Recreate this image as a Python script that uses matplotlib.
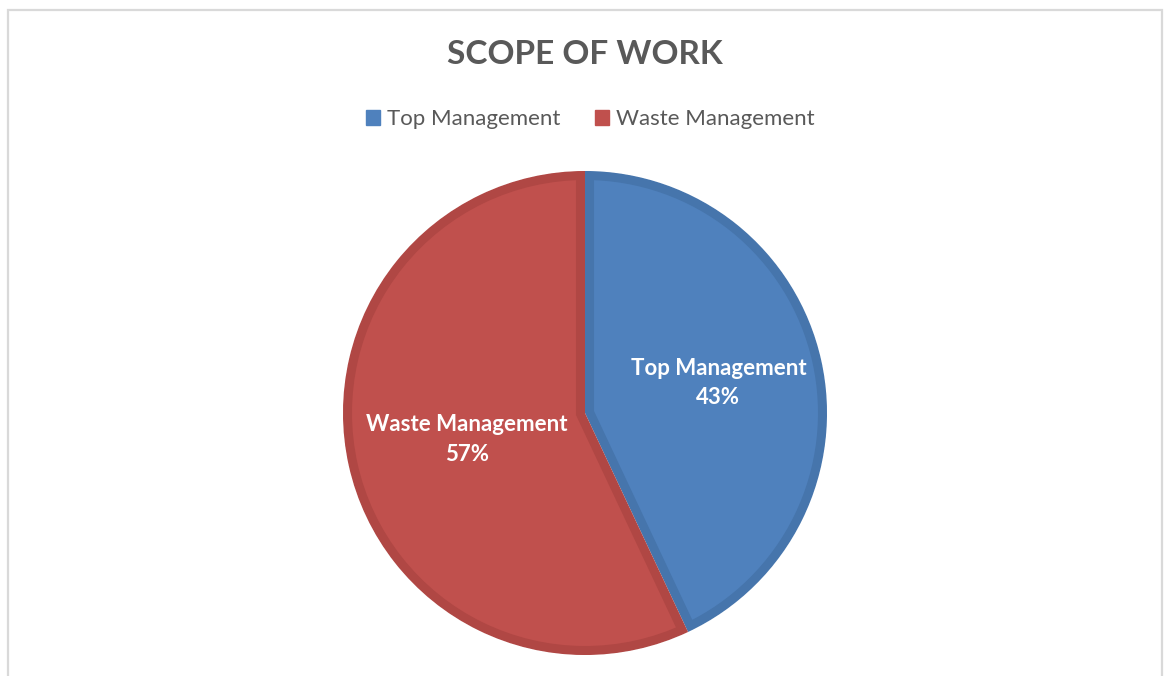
import matplotlib
matplotlib.use("Agg")
import matplotlib.pyplot as plt
from matplotlib.patches import Wedge, Rectangle, Patch
import numpy as np

title = "SCOPE OF WORK"
categories = ["Top Management", "Waste Management"]
values = [43, 57]
colors = ["#4F81BD", "#C0504D"]
edge_colors = ["#4675AC", "#B04744"]

FONT = ["Lato", "DejaVu Sans"]
W, H = 1168, 676
fig = plt.figure(figsize=(W / 100, H / 100), dpi=100)
fig.patch.set_facecolor("white")

# outer border (open at bottom)
fig.add_artist(Rectangle((8 / W, -0.05), (1162 - 8) / W, (H - 10) / H + 0.05,
                         transform=fig.transFigure, fill=False,
                         edgecolor="#D9D9D9", lw=1.6))

cx, cy, r = 585, 413, 242
ax = fig.add_axes([(cx - r) / W, (H - cy - r) / H, 2 * r / W, 2 * r / H])
wedges, _ = ax.pie(values, colors=colors, startangle=90, counterclock=False,
                   wedgeprops=dict(edgecolor="white", linewidth=0.8))
ax.set_xlim(-1, 1)
ax.set_ylim(-1, 1)
ax.set_aspect("equal")
ax.axis("off")

# darker inner rim on each slice
for w, ec in zip(wedges, edge_colors):
    rim = Wedge(w.center, w.r, w.theta1, w.theta2, facecolor="none",
                edgecolor=ec, linewidth=13)
    ax.add_patch(rim)
    rim.set_clip_path(w)

label_dist = [0.565, 0.50]
for w, cat, v, d in zip(wedges, categories, values, label_dist):
    ang = np.deg2rad((w.theta1 + w.theta2) / 2)
    ax.text(d * np.cos(ang), d * np.sin(ang), f"{cat}\n{v}%", ha="center",
            va="center", color="white", fontsize=16, fontweight="bold",
            family=FONT, linespacing=1.5)

fig.text(585 / W, 1 - 54 / H, title, ha="center", va="center", fontsize=24,
         fontweight="bold", color="#595959", family=FONT)

handles = [Patch(facecolor=c, edgecolor=c) for c in colors]
fig.legend(handles, categories, loc="center", bbox_to_anchor=(590 / W, 1 - 119 / H),
           ncol=2, frameon=False, handlelength=0.65, handleheight=0.65,
           handletextpad=0.3, columnspacing=1.55,
           prop=dict(family=FONT, size=16), labelcolor="#595959")

fig.savefig("out.png", dpi=100, facecolor="white")
